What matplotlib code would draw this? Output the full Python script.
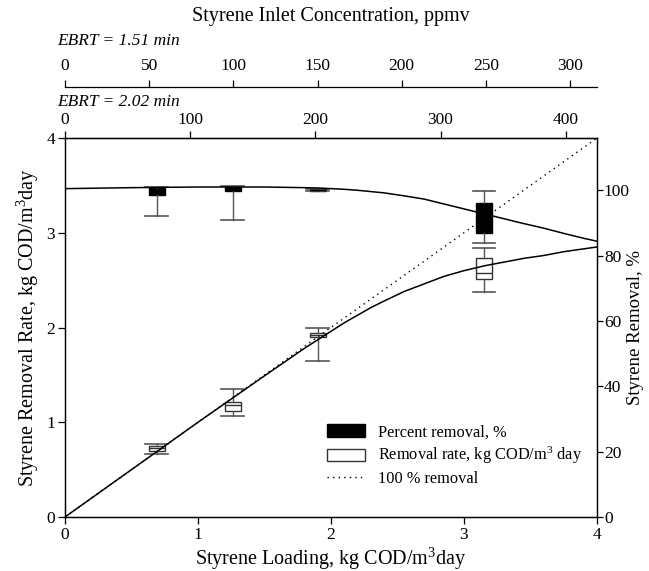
import matplotlib
matplotlib.use("Agg")
import matplotlib.pyplot as plt
from matplotlib.patches import Patch
from matplotlib.lines import Line2D

plt.rcParams['font.family'] = ['Liberation Serif', 'DejaVu Serif']
plt.rcParams['mathtext.fontset'] = 'custom'
plt.rcParams['mathtext.rm'] = 'Liberation Serif'
plt.rcParams['mathtext.it'] = 'Liberation Serif:italic'

# ---- data ----
box_x = [0.69, 1.26, 1.90, 3.15]
# percent removal boxes (right axis, %)
pct_whislo = [92.0, 91.0, 99.7, 84.0]
pct_q1 = [98.5, 99.7, 99.9, 87.0]
pct_med = [99.5, 100.3, 100.1, 91.0]
pct_q3 = [100.8, 100.9, 100.3, 96.0]
pct_whishi = [101.0, 101.3, 100.4, 99.7]
# removal rate boxes (left axis)
rate_whislo = [0.67, 1.07, 1.65, 2.37]
rate_q1 = [0.70, 1.12, 1.90, 2.51]
rate_med = [0.73, 1.18, 1.92, 2.57]
rate_q3 = [0.75, 1.21, 1.94, 2.73]
rate_whishi = [0.77, 1.35, 2.00, 2.84]
# fitted curves
curve_x = [0.0, 0.5, 1.0, 1.5, 1.8, 1.9, 2.0, 2.1, 2.2, 2.3, 2.4, 2.55, 2.7, 2.85, 3.0, 3.15, 3.3, 3.45, 3.6, 3.75, 3.9, 4.0]
rate_curve = [0.0, 0.5, 1.0, 1.49, 1.78, 1.87, 1.96, 2.05, 2.13, 2.21, 2.28, 2.38, 2.46, 2.54, 2.60, 2.65, 2.69, 2.73, 2.76, 2.80, 2.83, 2.85]
pct_curve = [100.5, 100.8, 101.0, 101.0, 100.8, 100.7, 100.5, 100.3, 100.0, 99.6, 99.2, 98.3, 97.3, 95.8, 94.3, 92.8, 91.3, 89.8, 88.4, 86.8, 85.3, 84.4]
ideal_x = [0.0, 4.0]
ideal_y = [0.0, 4.0]
ppm_max_151 = 316.0
ppm_max_202 = 425.0
ticks_151 = [0, 50, 100, 150, 200, 250, 300]
ticks_202 = [0, 100, 200, 300, 400]

fig = plt.figure(figsize=(6.49, 5.71), dpi=100)
ax = fig.add_axes([65/649, 1-517/571, 532/649, 379/571])
ax2 = ax.twinx()

ax.set_xlim(0, 4)
ax.set_ylim(0, 4)
ax2.set_ylim(0, 116)

ax.plot(curve_x, rate_curve, color='black', lw=1.1, zorder=3)
ax.plot(ideal_x, ideal_y, color='black', lw=1.0, ls=(0, (1, 3)), zorder=3)
ax2.plot(curve_x, pct_curve, color='black', lw=1.1, zorder=3)

def stats(lo, q1, med, q3, hi):
    return [dict(whislo=a, q1=b, med=c, q3=d, whishi=e) for a, b, c, d, e in zip(lo, q1, med, q3, hi)]

wcol = '#555555'
ax.bxp(stats(rate_whislo, rate_q1, rate_med, rate_q3, rate_whishi), positions=box_x,
       widths=0.12, capwidths=0.17, showfliers=False, patch_artist=True, manage_ticks=False,
       boxprops=dict(facecolor='white', edgecolor='#333333', lw=1.0),
       medianprops=dict(color='#333333', lw=1.0),
       whiskerprops=dict(color=wcol, lw=1.0), capprops=dict(color=wcol, lw=1.2))
ax2.bxp(stats(pct_whislo, pct_q1, pct_med, pct_q3, pct_whishi), positions=box_x,
        widths=0.12, capwidths=0.17, showfliers=False, patch_artist=True, manage_ticks=False,
        boxprops=dict(facecolor='black', edgecolor='black', lw=1.0),
        medianprops=dict(color='black', lw=1.0),
        whiskerprops=dict(color=wcol, lw=1.0), capprops=dict(color=wcol, lw=1.2))

ax.set_xticks([0, 1, 2, 3, 4])
ax.set_yticks([0, 1, 2, 3, 4])
ax2.set_yticks([0, 20, 40, 60, 80, 100])
for a in (ax, ax2):
    a.tick_params(direction='out', length=5, labelsize=12.5, width=0.9, pad=2)
    for s in a.spines.values():
        s.set_linewidth(0.9)
ax2.tick_params(axis='y', length=4, pad=1)

ax.set_xlabel('Styrene Loading, kg COD/m$^3$day', fontsize=14.5, labelpad=2)
ax.set_ylabel('Styrene Removal Rate, kg COD/m$^3$day', fontsize=14.5, labelpad=4)
ax2.set_ylabel('Styrene Removal, %', fontsize=13.5)
ax2.yaxis.set_label_coords(1.057, 0.5)

# top axes (concentration)
sec202 = ax.secondary_xaxis('top', functions=(lambda x: x * ppm_max_202 / 4.0,
                                               lambda p: p * 4.0 / ppm_max_202))
sec202.set_xticks(ticks_202)
sec202.tick_params(direction='out', length=5, labelsize=12.5, width=0.9, pad=2)
sec151 = ax.secondary_xaxis(1.135, functions=(lambda x: x * ppm_max_151 / 4.0,
                                              lambda p: p * 4.0 / ppm_max_151))
sec151.set_xticks(ticks_151)
sec151.tick_params(direction='out', length=5, labelsize=12.5, width=0.9, pad=4)
for s in sec151.spines.values():
    s.set_linewidth(0.9)

fig.text(57/649, 1-102/571, 'EBRT = 2.02 min', fontsize=12.5, style='italic', va='center', ha='left')
fig.text(57/649, 1-41/571, 'EBRT = 1.51 min', fontsize=12.5, style='italic', va='center', ha='left')
fig.text(331/649, 1-16/571, 'Styrene Inlet Concentration, ppmv', fontsize=14.5, va='center', ha='center')

handles = [Patch(facecolor='black', edgecolor='black'),
           Patch(facecolor='white', edgecolor='#333333'),
           Line2D([0], [0], color='black', lw=1.0, ls=(0, (1, 3)))]
labels = ['Percent removal, %', 'Removal rate, kg COD/m$^3$ day', '100 % removal']
ax.legend(handles, labels, loc='upper left', bbox_to_anchor=(0.48, 0.262), frameon=False,
          fontsize=11.8, handlelength=2.3, handleheight=0.8, labelspacing=0.3, handletextpad=0.8,
          borderaxespad=0)

fig.savefig('out.png', dpi=100)
